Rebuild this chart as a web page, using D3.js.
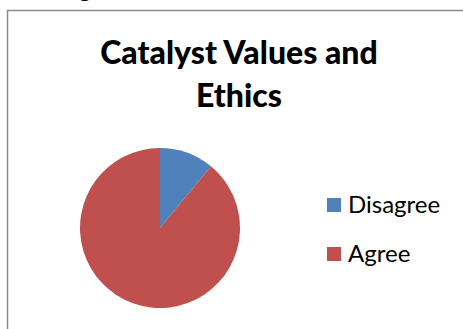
<!DOCTYPE html>
<html>
<head>
<meta charset="utf-8">
<script src="https://cdn.jsdelivr.net/npm/d3@7"></script>
<style>
  html, body { margin: 0; padding: 0; background: #fff; }
  svg { display: block; }
</style>
</head>
<body>
<svg id="chart" width="463" height="329"></svg>
<script>
// Survey responses
const categories = ["Disagree", "Agree"];
const values = [11, 89];
const colors = ["#4F81BD", "#C0504D"];
const titleLines = ["Catalyst Values and", "Ethics"];

const svg = d3.select("#chart");
const W = 463, H = 329;
const font = "Lato, 'Open Sans', sans-serif";

// trailing descender of the text line above the chart frame
svg.append("text")
  .attr("x", 79).attr("y", -3)
  .attr("font-family", font).attr("font-size", 22)
  .attr("fill", "#000")
  .text("g");

// chart frame (top and left edges visible)
svg.append("path")
  .attr("d", `M7.5,${H} V10.5 H${W}`)
  .attr("fill", "none")
  .attr("stroke", "#8a8a8a")
  .attr("stroke-width", 1.5);

// title
svg.append("text")
  .attr("font-family", font)
  .attr("font-weight", 900)
  .attr("font-size", 32)
  .attr("text-anchor", "middle")
  .attr("fill", "#000")
  .selectAll("tspan")
  .data(titleLines)
  .join("tspan")
  .attr("x", 239)
  .attr("y", (d, i) => 64 + i * 43)
  .text(d => d);

// pie
const cx = 160, cy = 228, r = 80;
const pie = d3.pie().sort(null).value(d => d)(values);
const arc = d3.arc().innerRadius(0).outerRadius(r);
const g = svg.append("g").attr("transform", `translate(${cx},${cy})`);
g.selectAll("path")
  .data(pie)
  .join("path")
  .attr("d", arc)
  .attr("fill", (d, i) => colors[i]);

// legend
const legend = svg.append("g");
const y = d3.scalePoint().domain(categories).range([205, 254]);
const items = legend.selectAll("g")
  .data(categories)
  .join("g")
  .attr("transform", d => `translate(327,${y(d)})`);
items.append("rect")
  .attr("x", 0).attr("y", -7)
  .attr("width", 14).attr("height", 14)
  .attr("fill", (d, i) => colors[i]);
items.append("text")
  .attr("x", 21).attr("y", 7.5)
  .attr("font-family", font)
  .attr("font-size", 24)
  .attr("fill", "#000")
  .text(d => d);
</script>
</body>
</html>
